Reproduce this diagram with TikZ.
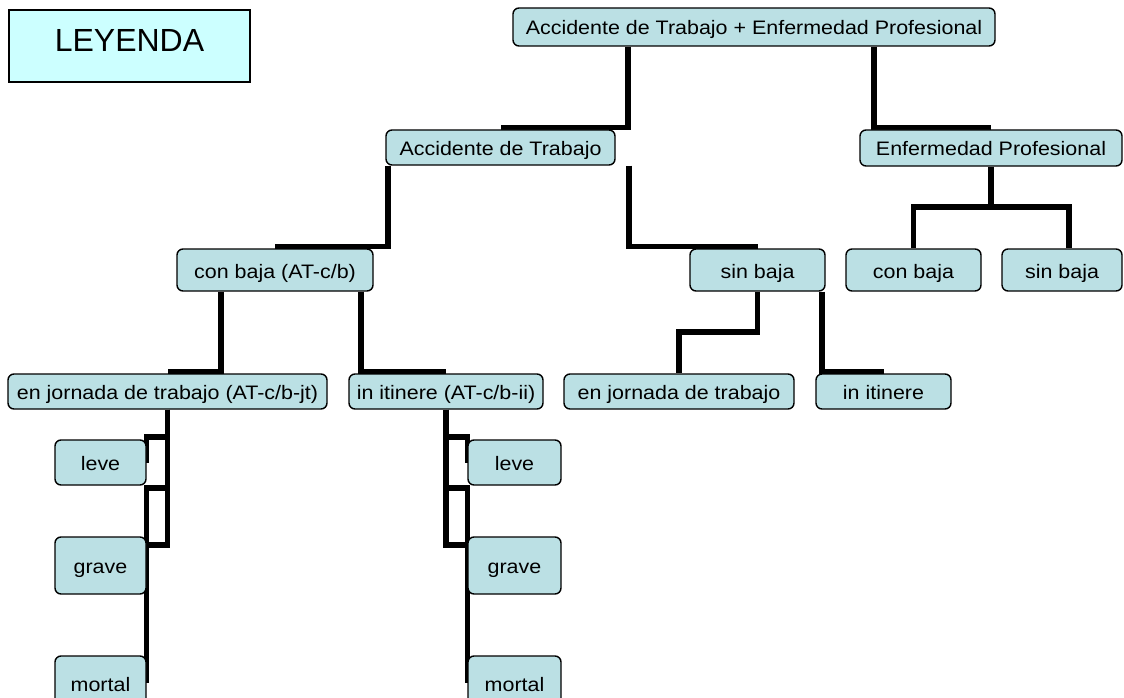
\documentclass[tikz,border=0pt]{standalone}
\usepackage{fontspec}
\setmainfont{Liberation Sans}[FakeStretch=1.1]
\newfontfamily\legfont{Liberation Sans}
\usetikzlibrary{backgrounds}
\definecolor{boxfill}{RGB}{187,224,228}
\definecolor{legfill}{RGB}{204,255,255}
\begin{document}
\begin{tikzpicture}[x=1pt,y=-1pt,
  box/.style={draw=black, line width=1.4pt, fill=boxfill, rounded corners=6pt,
    inner sep=0pt, font=\fontsize{19.5}{22}\selectfont, text=black,
    text height=19pt, text depth=3pt},
  legbox/.style={draw=black, line width=2.2pt, fill=legfill, inner sep=0pt,
    font=\legfont\fontsize{32}{36}\selectfont, text=black,
    text height=23pt, text depth=11.6pt},
  conn/.style={line width=5.5pt, draw=black}]
\useasboundingbox (0,0) rectangle (1124,698);

% nodes
\node[legbox, minimum width=241pt, minimum height=72pt] (leg) at (129.5,46) {LEYENDA};
\node[box, minimum width=482pt, minimum height=38pt] (top) at (754,27) {Accidente de Trabajo + Enfermedad Profesional};
\node[box, minimum width=229pt, minimum height=35pt] (at) at (500.5,147.5) {Accidente de Trabajo};
\node[box, minimum width=262pt, minimum height=36pt] (ep) at (991,148) {Enfermedad Profesional};
\node[box, minimum width=135pt, minimum height=42pt] (epcb) at (913.5,270) {con baja};
\node[box, minimum width=120pt, minimum height=42pt] (epsb) at (1062,270) {sin baja};
\node[box, minimum width=196pt, minimum height=42pt] (cb) at (275,270) {con baja (AT-c/b)};
\node[box, minimum width=135pt, minimum height=42pt] (sb) at (757.5,270) {sin baja};
\node[box, minimum width=319pt, minimum height=35pt] (jt) at (167.5,391.5) {en jornada de trabajo (AT-c/b-jt)};
\node[box, minimum width=194pt, minimum height=35pt] (ii) at (446,391.5) {in itinere (AT-c/b-ii)};
\node[box, minimum width=230pt, minimum height=35pt] (sbjt) at (679,391.5) {en jornada de trabajo};
\node[box, minimum width=135pt, minimum height=35pt] (sbii) at (883.5,391.5) {in itinere};
\node[box, minimum width=91pt, minimum height=45pt] (leveL) at (100.5,462.5) {leve};
\node[box, minimum width=91pt, minimum height=57pt] (graveL) at (100.5,565.5) {grave};
\node[box, minimum width=91pt, minimum height=54pt] (mortalL) at (100.5,683) {mortal};
\node[box, minimum width=93pt, minimum height=45pt] (leveR) at (514.5,462.5) {leve};
\node[box, minimum width=93pt, minimum height=57pt] (graveR) at (514.5,565.5) {grave};
\node[box, minimum width=93pt, minimum height=54pt] (mortalR) at (514.5,683) {mortal};

% connectors
\begin{scope}[on background layer]
\draw[conn] ([xshift=-126pt]top.south) |- ([yshift=2pt]at.north);
\draw[conn] ([xshift=120pt]top.south) |- ([yshift=2pt]ep.north);
\draw[conn] ([xshift=-112.5pt]at.south) |- ([yshift=2pt]cb.north);
\draw[conn] ([xshift=128.5pt]at.south) |- ([yshift=2pt]sb.north);
\draw[conn] (ep.south) -- (ep.south |- 0,207) coordinate (epmid);
\draw[conn] (epcb.north) |- (epmid) -| ([xshift=7pt]epsb.north);
\draw[conn] ([xshift=-54pt]cb.south) |- ([yshift=2pt]jt.north);
\draw[conn] ([xshift=86pt]cb.south) |- ([yshift=2pt]ii.north);
\draw[conn] (sb.south) -- (sb.south |- 0,332) -| (sbjt.north);
\draw[conn] ([xshift=64.5pt]sb.south) |- ([yshift=2pt]sbii.north);
\draw[conn] (jt.south) -- (jt.south |- 0,437) -| (leveL.east);
\draw[conn] (jt.south) -- (jt.south |- 0,488) -| (graveL.east);
\draw[conn] (jt.south) -- (jt.south |- 0,545) -| (mortalL.east);
\draw[conn] (ii.south) -- (ii.south |- 0,437) -| (leveR.west);
\draw[conn] (ii.south) -- (ii.south |- 0,488) -| (graveR.west);
\draw[conn] (ii.south) -- (ii.south |- 0,545) -| (mortalR.west);
\end{scope}
\end{tikzpicture}
\end{document}
